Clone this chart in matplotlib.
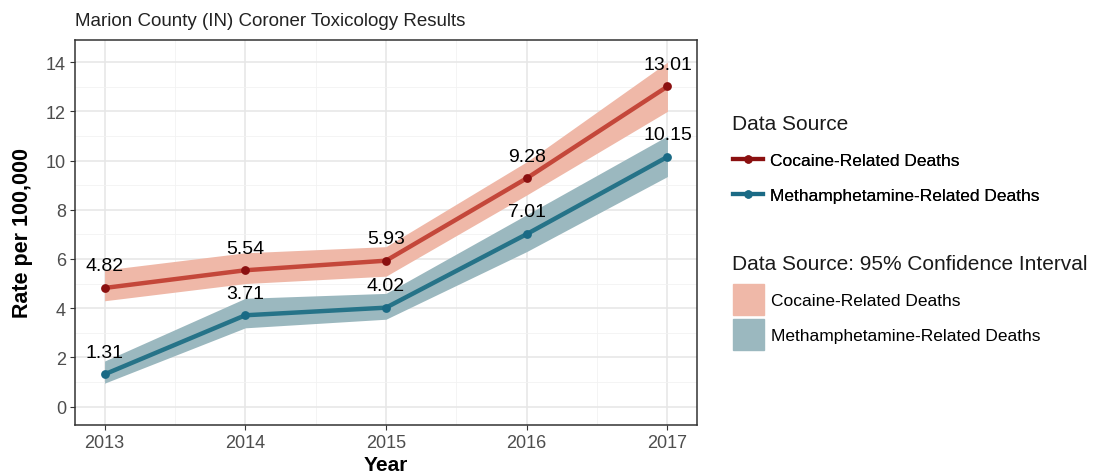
import matplotlib.pyplot as plt
from matplotlib.lines import Line2D
from matplotlib.patches import Patch

plt.rcParams['font.family'] = ['Liberation Sans', 'DejaVu Sans']

years = [2013, 2014, 2015, 2016, 2017]
cocaine = [4.82, 5.54, 5.93, 9.28, 13.01]
cocaine_lo = [4.30, 5.00, 5.30, 8.60, 12.00]
cocaine_hi = [5.55, 6.25, 6.50, 9.95, 14.00]
meth = [1.31, 3.71, 4.02, 7.01, 10.15]
meth_lo = [0.95, 3.20, 3.55, 6.30, 9.35]
meth_hi = [1.85, 4.40, 4.60, 7.80, 11.00]
series_names = ["Cocaine-Related Deaths", "Methamphetamine-Related Deaths"]

coc_line, coc_pt, coc_band = "#c4473a", "#8b1010", "#efb8a8"
met_line, met_pt, met_band = "#267388", "#1a6a85", "#9bb8bf"

W, H = 1105, 477
fig = plt.figure(figsize=(W / 100, H / 100), dpi=100)
ax = fig.add_axes([75 / W, 1 - 426 / H, 622 / W, 385 / H])

ax.fill_between(years, cocaine_lo, cocaine_hi, color=coc_band, lw=0, zorder=2)
ax.fill_between(years, meth_lo, meth_hi, color=met_band, lw=0, zorder=2)
ax.plot(years, cocaine, color=coc_line, lw=3.2, zorder=3, solid_capstyle='butt')
ax.plot(years, meth, color=met_line, lw=3.2, zorder=3, solid_capstyle='butt')
ax.scatter(years, cocaine, color=coc_pt, s=40, zorder=4, lw=0)
ax.scatter(years, meth, color=met_pt, s=40, zorder=4, lw=0)

for vals in (cocaine, meth):
    for x, y in zip(years, vals):
        ax.annotate(f"{y:.2f}", (x, y), xytext=(0, 16), textcoords='offset points',
                    ha='center', va='center', fontsize=14, color='black', zorder=5)

ax.set_xlim(2012.79, 2017.21)
ax.set_ylim(-0.75, 14.9)
ax.set_xticks(years)
ax.set_yticks(range(0, 15, 2))
ax.set_xticks([2013.5, 2014.5, 2015.5, 2016.5], minor=True)
ax.set_yticks(range(1, 15, 2), minor=True)
ax.grid(which='major', color='#e6e6e6', lw=1.1, zorder=0)
ax.grid(which='minor', color='#f2f2f2', lw=0.6, zorder=0)
ax.set_axisbelow(True)
ax.tick_params(which='major', colors='#333333', labelcolor='#4d4d4d', labelsize=13,
               length=3.5, pad=3)
ax.tick_params(which='minor', length=0)
for s in ax.spines.values():
    s.set_color('#333333')
    s.set_linewidth(1.1)

ax.set_xlabel("Year", fontsize=15, fontweight='bold', labelpad=3)
ax.set_ylabel("Rate per 100,000", fontsize=15.5, fontweight='bold', labelpad=9)

fig.text(75 / W, 1 - 21 / H, "Marion County (IN) Coroner Toxicology Results",
         fontsize=13.5, color='#222222', va='center')

# legend titles placed as text, entries as title-less legends
fig.text(732 / W, 1 - 125 / H, "Data Source", fontsize=15, color='#1a1a1a', va='center')
fig.text(732 / W, 1 - 265 / H, "Data Source: 95% Confidence Interval",
         fontsize=15, color='#1a1a1a', va='center')

line_handles = [
    Line2D([], [], color=coc_pt, lw=3, marker='o', markersize=5),
    Line2D([], [], color=met_pt, lw=3, marker='o', markersize=5),
]
leg1 = fig.legend(line_handles, series_names,
                  loc='upper left', bbox_to_anchor=(733 / W, 1 - 154 / H),
                  frameon=False, fontsize=12.5, borderpad=0,
                  handlelength=1.72, labelspacing=1.14,
                  handletextpad=0.4, borderaxespad=0)
band_handles = [Patch(color=coc_band), Patch(color=met_band)]
leg2 = fig.legend(band_handles, series_names,
                  loc='upper left', bbox_to_anchor=(733 / W, 1 - 285 / H),
                  frameon=False, fontsize=12.5, borderpad=0,
                  handlelength=1.78, handleheight=2.37, labelspacing=0.23,
                  handletextpad=0.4, borderaxespad=0)
fig.add_artist(leg1)

fig.savefig("out.png", dpi=100)
